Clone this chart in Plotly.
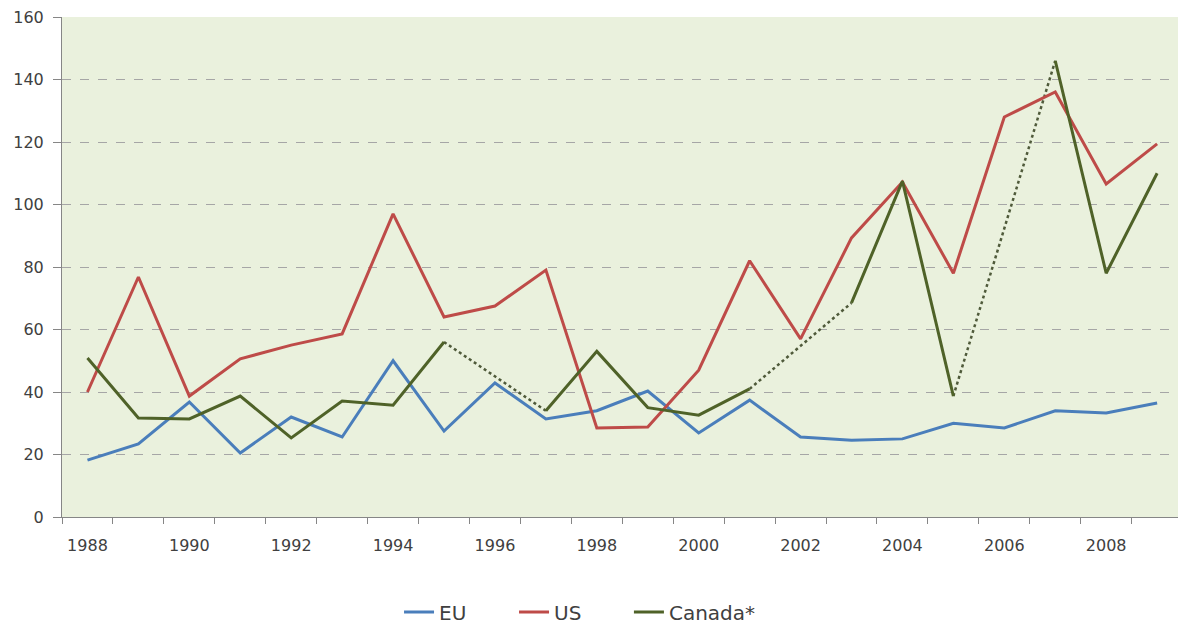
import plotly.graph_objects as go

years = list(range(1988, 2010))
eu = [18.2, 23.4, 36.8, 20.5, 32.0, 25.6, 50.0, 27.5, 42.9, 31.4, 34.0,
      40.3, 26.9, 37.4, 25.6, 24.6, 25.0, 30.0, 28.5, 34.0, 33.3, 36.5]
us = [40.0, 76.8, 38.7, 50.6, 55.0, 58.6, 97.0, 64.0, 67.5, 79.0, 28.5,
      28.8, 47.0, 82.0, 57.0, 89.3, 107.2, 78.0, 128.0, 136.0, 106.6, 119.4]
canada = [50.9, 31.7, 31.4, 38.7, 25.3, 37.1, 35.8, 56.0, None, 34.0, 53.0,
          35.0, 32.6, 41.0, None, 68.5, 107.5, 38.7, None, 146.0, 78.0, 110.0]
tick_labels = [str(y) for y in range(1988, 2010, 2)]

# dotted connectors across missing Canada years
gap_x, gap_y = [], []
for i, v in enumerate(canada):
    if v is None:
        j = i - 1
        k = i + 1
        while canada[k] is None:
            k += 1
        gap_x += [years[j], years[k], None]
        gap_y += [canada[j], canada[k], None]

font = "'DejaVu Sans', sans-serif"
fig = go.Figure()
fig.add_trace(go.Scatter(x=gap_x, y=gap_y, mode="lines", showlegend=False,
                         line=dict(color="#4F5A3A", width=2.5, dash="dot"),
                         connectgaps=False, hoverinfo="skip"))
fig.add_trace(go.Scatter(x=years, y=eu, mode="lines", name="EU",
                         line=dict(color="#4A7EBB", width=3)))
fig.add_trace(go.Scatter(x=years, y=us, mode="lines", name="US",
                         line=dict(color="#BE4B48", width=3)))
fig.add_trace(go.Scatter(x=years, y=canada, mode="lines", name="Canada*",
                         connectgaps=False, legend="legend2",
                         line=dict(color="#4F6228", width=3)))

legend_style = dict(orientation="h", xanchor="left", y=-0.19, yanchor="middle",
                    font=dict(size=20, color="#404040"), traceorder="normal")

fig.update_layout(
    width=1178, height=626,
    margin=dict(l=62, r=0, t=17, b=109, autoexpand=False),
    paper_bgcolor="white",
    plot_bgcolor="#EAF1DD",
    font=dict(family=font, size=16, color="#404040"),
    showlegend=True,
    legend=dict(x=0.3020, entrywidth=70, entrywidthmode="pixels", **legend_style),
    legend2=dict(x=0.508, **legend_style),
    xaxis=dict(
        range=[1987.5, 2009.41],
        automargin=False,
        tickmode="array",
        tickvals=[int(t) for t in tick_labels],
        ticktext=tick_labels,
        ticks="",
        ticklabelstandoff=14,
        showgrid=False,
        zeroline=False,
        showline=True, linecolor="#868686", linewidth=1,
        minor=dict(ticks="outside", tickvals=[y + 0.5 for y in range(1987, 2010)],
                   ticklen=6, tickcolor="#868686", showgrid=False),
        tickfont=dict(size=16, color="#404040"),
    ),
    yaxis=dict(
        range=[0, 160],
        automargin=False,
        tickmode="linear", tick0=0, dtick=20,
        ticks="outside", ticklen=8, tickcolor="#868686",
        ticklabelstandoff=6,
        ticklabeloverflow="allow",
        showgrid=True, gridcolor="#A6A6A6", griddash="dash", gridwidth=1,
        zeroline=False,
        showline=True, linecolor="#868686", linewidth=1,
        tickfont=dict(size=16, color="#404040"),
    ),
)
fig.write_html("out.html", config={"displayModeBar": False},
               post_script="document.body.style.margin='0';document.body.style.overflow='hidden';")
